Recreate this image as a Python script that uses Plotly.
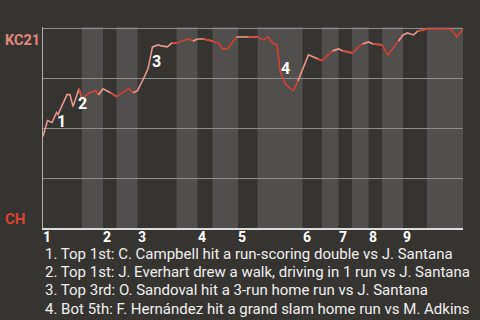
import plotly.graph_objects as go

# Win probability for KC (away team) by pitch number
pitch = [0, 3, 6, 9, 10, 16, 18, 20, 24, 26, 31, 35, 37, 40, 45, 49, 57, 60, 63, 67, 70, 73,
         77, 79, 83, 86, 89, 93, 97, 100, 103, 107, 113, 117, 120, 123, 129, 130, 137, 143,
         147, 150, 153, 156, 157, 158, 160, 162, 165, 167, 170, 173, 177, 180, 183, 186, 190,
         193, 197, 200, 206, 207, 210, 213, 217, 220, 226, 229, 230, 232, 237, 240, 243, 247,
         250, 256, 272, 276, 280]
win_prob = [0.46, 0.54, 0.53, 0.58, 0.57, 0.67, 0.67, 0.61, 0.70, 0.65, 0.68, 0.69, 0.67, 0.70,
            0.68, 0.66, 0.70, 0.68, 0.69, 0.75, 0.80, 0.91, 0.92, 0.915, 0.91, 0.93, 0.93, 0.94,
            0.95, 0.94, 0.95, 0.95, 0.94, 0.93, 0.90, 0.90, 0.96, 0.96, 0.96, 0.96, 0.945, 0.96,
            0.93, 0.92, 0.86, 0.79, 0.75, 0.72, 0.70, 0.69, 0.74, 0.80, 0.87, 0.86, 0.85, 0.84,
            0.87, 0.89, 0.90, 0.89, 0.88, 0.88, 0.91, 0.925, 0.935, 0.925, 0.92, 0.88, 0.87, 0.89,
            0.94, 0.97, 0.98, 0.97, 0.99, 1.0, 1.0, 0.96, 1.0]

# Half-inning start pitches (top 1st, bottom 1st, top 2nd, ...), last value = end of game
half_starts = [0, 26, 40, 49, 63, 89, 103, 113, 130, 143, 173, 186, 197, 206, 217, 226, 240, 256, 280]
inning_labels = ["1", "2", "3", "4", "5", "6", "7", "8", "9"]

# Key events: (pitch, label)
event_pitch = [9, 24, 73, 158]
event_label = ["1", "2", "3", "4"]
event_shift = [(5, -9), (3, -15), (4, -15), (5, 2)]
captions = [
    "1. Top 1st: C. Campbell hit a run-scoring double vs J. Santana",
    "2. Top 1st: J. Everhart drew a walk, driving in 1 run vs J. Santana",
    "3. Top 3rd: O. Sandoval hit a 3-run home run vs J. Santana",
    "4. Bot 5th: F. Hernández hit a grand slam home run vs M. Adkins",
]

BG = "#363431"
BAND = "#504f4d"
TOP_COLOR = "#e8978a"
BOT_COLOR = "#d5412f"

fig = go.Figure()

# Shaded bands for bottom halves
for i in range(1, len(half_starts) - 1, 2):
    fig.add_shape(type="rect", xref="x", yref="paper", x0=half_starts[i], x1=half_starts[i + 1],
                  y0=0, y1=1, fillcolor=BAND, line_width=0, layer="below")

# Line segments colored by half-inning
for i in range(len(half_starts) - 1):
    a, b = half_starts[i], half_starts[i + 1]
    idx = [k for k, p in enumerate(pitch) if a <= p <= b]
    prev = [k for k, p in enumerate(pitch) if p < a]
    if prev:
        idx = [prev[-1]] + idx
    fig.add_trace(go.Scatter(
        x=[pitch[k] for k in idx], y=[win_prob[k] for k in idx], mode="lines",
        line=dict(color=TOP_COLOR if i % 2 == 0 else BOT_COLOR, width=1.6),
        hoverinfo="skip", showlegend=False))

for p, lab, (dx, dy) in zip(event_pitch, event_label, event_shift):
    yv = win_prob[pitch.index(p)]
    fig.add_annotation(x=p, y=yv, text=f"<b>{lab}</b>", showarrow=False,
                       xshift=dx, yshift=dy, font=dict(family="Roboto", size=16, color="white"))

# Inning labels
for j, lab in enumerate(inning_labels):
    fig.add_annotation(x=half_starts[2 * j], xref="x", yref="paper", y=0, yanchor="top",
                       xanchor="center", xshift=4, yshift=1, text=f"<b>{lab}</b>",
                       showarrow=False, font=dict(family="Roboto", size=14, color="white"))

fig.add_annotation(xref="paper", yref="paper", x=-40 / 420, y=0.935, xanchor="left", yanchor="middle",
                   text="<b>KC21</b>", showarrow=False,
                   font=dict(family="Roboto", size=14.5, color="#e0887a"))
fig.add_annotation(xref="paper", yref="paper", x=-40 / 420, y=0.045, xanchor="left", yanchor="middle",
                   text="<b>CH</b>", showarrow=False,
                   font=dict(family="Roboto", size=15, color="#d8432f"))

for j, cap in enumerate(captions):
    fig.add_annotation(xref="paper", yref="paper", x=0.0, y=(228 - 253.5 - 18.4 * j) / 201,
                       xanchor="left", yanchor="middle", align="left", text=cap, showarrow=False,
                       font=dict(family="Roboto", size=15, color="#f0f0f0"))

fig.update_layout(
    width=480, height=320,
    margin=dict(l=43, r=17, t=27, b=92),
    paper_bgcolor=BG, plot_bgcolor=BG,
    showlegend=False,
    xaxis=dict(range=[0, 280], showgrid=False, zeroline=False,
               showline=True, linecolor="#dcdcdc", linewidth=2,
               showticklabels=False, ticks=""),
    yaxis=dict(range=[0, 1.01], showgrid=True, gridcolor="#8e8e8e", gridwidth=1,
               tickvals=[0.25, 0.5, 0.75, 1.0], showticklabels=False, zeroline=False,
               showline=True, linecolor="#b0b0b0", linewidth=1, ticks=""),
)

fig.write_html("out.html")
